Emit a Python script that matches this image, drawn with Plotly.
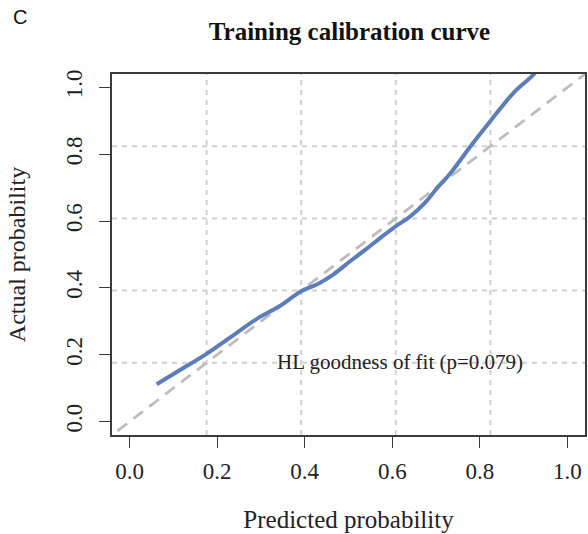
import plotly.graph_objects as go

# Smoothed calibration curve (predicted vs. observed probability)
pred_prob = [0.062, 0.12, 0.175, 0.23, 0.289, 0.342, 0.392, 0.43, 0.465, 0.50,
             0.538, 0.575, 0.606, 0.64, 0.675, 0.70, 0.735, 0.78, 0.825, 0.878,
             0.92, 0.95]
actual_prob = [0.112, 0.158, 0.202, 0.252, 0.306, 0.345, 0.390, 0.412, 0.440, 0.476,
               0.514, 0.552, 0.583, 0.613, 0.655, 0.695, 0.747, 0.826, 0.901, 0.985,
               1.035, 1.08]

# Ideal calibration reference (y = x)
ideal = [-0.1, 1.1]

tick_vals = [0.0, 0.2, 0.4, 0.6, 0.8, 1.0]
tick_text = ["0.0", "0.2", "0.4", "0.6", "0.8", "1.0"]

axis_range = [-0.04, 1.04]
n_grid = 5

hl_label = "HL goodness of fit (p=0.079)"
hl_pos = (0.618, 0.177)

serif = "Liberation Serif, Times New Roman, serif"

fig = go.Figure()

fig.add_trace(go.Scatter(
    x=ideal, y=ideal, mode="lines",
    line=dict(color="#BDBDBD", width=2.8, dash="12px,8px"),
    hoverinfo="skip", showlegend=False,
))
fig.add_trace(go.Scatter(
    x=pred_prob, y=actual_prob, mode="lines",
    line=dict(color="#5B7DB9", width=4, shape="spline", smoothing=1.0),
    showlegend=False,
))

# grid lines splitting the plotting region into equal cells
lo, hi = axis_range
grid_pos = [lo + (hi - lo) * k / n_grid for k in range(1, n_grid)]
for g in grid_pos:
    fig.add_shape(type="line", xref="x", yref="paper", x0=g, x1=g, y0=0, y1=1,
                  line=dict(color="#D0D0D0", width=2, dash="5px,5px"), layer="below")
    fig.add_shape(type="line", xref="paper", yref="y", x0=0, x1=1, y0=g, y1=g,
                  line=dict(color="#D0D0D0", width=2, dash="5px,5px"), layer="below")

fig.add_annotation(
    x=hl_pos[0], y=hl_pos[1], xref="x", yref="y", text=hl_label,
    showarrow=False, font=dict(family=serif, size=21, color="#222222"),
)

# panel letter
fig.add_annotation(
    xref="paper", yref="paper", x=-0.194, y=1.157,
    xanchor="center", yanchor="middle", text="C", showarrow=False,
    font=dict(family="Liberation Sans, Arial, sans-serif", size=20, color="#111111"),
)

axis_common = dict(
    range=axis_range, tickvals=tick_vals, ticktext=tick_text,
    showgrid=False, zeroline=False,
    showline=True, mirror=True, linecolor="#3A3A3A", linewidth=1.5,
    ticks="outside", ticklen=11, tickwidth=1.3, tickcolor="#3A3A3A",
    tickfont=dict(family=serif, size=23, color="#222222"),
)

fig.update_layout(
    width=588, height=534,
    margin=dict(l=112, r=1, t=74, b=99),
    paper_bgcolor="white", plot_bgcolor="white",
    title=dict(
        text="<b>Training calibration curve</b>",
        x=(112 + 587) / 2 / 588, xanchor="center",
        y=1 - 31 / 534, yanchor="middle",
        font=dict(family=serif, size=25, color="#111111"),
    ),
    xaxis=dict(
        **axis_common, ticklabelstandoff=4,
        title=dict(text="Predicted probability", standoff=27,
                   font=dict(family=serif, size=25, color="#222222")),
    ),
    yaxis=dict(
        **axis_common, tickangle=-90, ticklabelstandoff=8,
        title=dict(text="Actual probability", standoff=30,
                   font=dict(family=serif, size=24, color="#222222")),
    ),
)

fig.write_html("out.html")
